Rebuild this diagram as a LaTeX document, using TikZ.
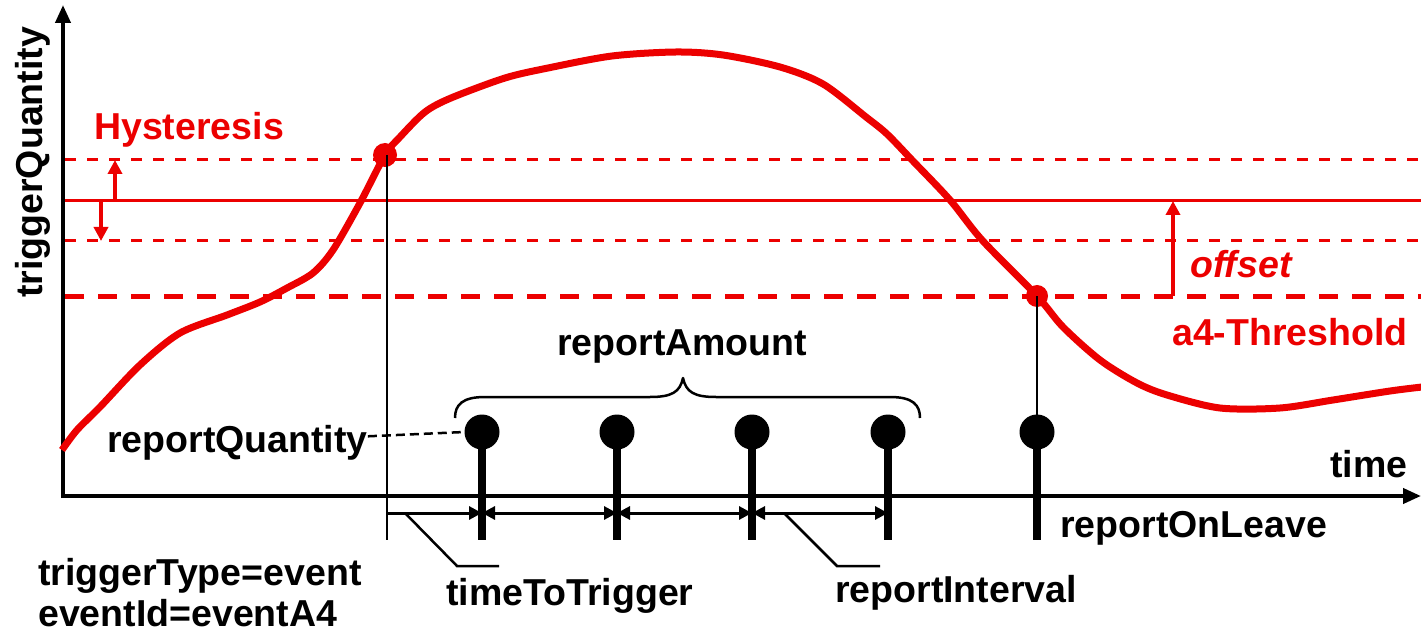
\documentclass[tikz,border=0pt]{standalone}
\usepackage{fontspec}
\setmainfont{Liberation Sans}
\usetikzlibrary{arrows.meta}
\definecolor{tqred}{RGB}{236,0,0}
\begin{document}
\begin{tikzpicture}[x=1pt,y=-1pt,
  lbl/.style={font=\fontsize{37.5}{42}\selectfont\bfseries, inner sep=0pt},
  redlbl/.style={lbl, text=tqred},
  axis/.style={line width=4pt, -{Triangle[length=18pt,width=15pt]}},
  hyst/.style={tqred, line width=3pt, dash pattern=on 11pt off 11pt},
  thresh/.style={tqred, line width=5pt, dash pattern=on 19pt off 14pt},
  level/.style={tqred, line width=3pt},
  redarrow/.style={tqred, line width=4pt, -{Triangle[length=14pt,width=14pt]}},
  curve/.style={tqred, line width=7pt, line join=round},
  reddot/.style={circle, fill=tqred, inner sep=0pt, minimum size=24pt},
  repdot/.style={circle, fill=black, inner sep=0pt, minimum size=35pt},
  stemline/.style={line width=8pt},
  thinline/.style={line width=2.5pt},
  interval/.style={line width=3pt, {Triangle[length=13pt,width=13pt]}-{Triangle[length=13pt,width=13pt]}},
  leader/.style={line width=2.5pt},
  bracestyle/.style={line width=2.5pt, line join=round}]
\useasboundingbox (0,0) rectangle (1421,636);

% axes
\coordinate (origin) at (63,496);
\coordinate (ytop) at (63,5);
\coordinate (xend) at (1421,496);
\draw[axis] (63,498) -- (ytop);
\draw[axis] (61,496) -- (xend);

% threshold levels
\draw[hyst] (65,160) -- (1421,160);
\draw[level] (65,201) -- (1421,201);
\draw[hyst] (65,241) -- (1421,241);
\draw[thresh] (65,296) -- (1421,296);

% hysteresis and offset arrows
\coordinate (hyUp) at (115,201);
\coordinate (hyUpTip) at (115,160);
\coordinate (hyDn) at (101,201);
\coordinate (hyDnTip) at (101,241);
\draw[redarrow] (hyUp) -- (hyUpTip);
\draw[redarrow] (hyDn) -- (hyDnTip);
\coordinate (offBase) at (1173,296);
\coordinate (offTip) at (1173,201);
\draw[redarrow] (offBase) -- (offTip);

% measured quantity
\draw[curve] plot[smooth, tension=0.5] coordinates {
  (62,450) (77,430) (100,407) (140,365) (180,333) (227,315) (260,302)
  (287,288) (313,273) (333,250) (360,203) (385,155) (400,137) (425,112)
  (451,98) (505,78) (548,68) (612,56) (676,52) (723,55) (780,67)
  (823,84) (866,117) (887,134) (912,160) (950,200) (982,240)
  (1037,296) (1063,327) (1100,360) (1137,383) (1167,395) (1220,408)
  (1280,408) (1333,400) (1390,391) (1422,387)};

% entering and leaving points
\node[reddot] (enter) at (385,155) {};
\node[reddot, minimum size=22pt] (leave) at (1037,296) {};

% vertical marker at the trigger instant
\coordinate (trigBot) at (387,540);
\draw[thinline] (387,155) -- (trigBot);

% reports
\node[repdot] (r1) at (482,432) {};
\node[repdot] (r2) at (617,432) {};
\node[repdot] (r3) at (752,432) {};
\node[repdot] (r4) at (888,432) {};
\node[repdot] (r5) at (1037,432) {};
\foreach \r in {r1,r2,r3,r4,r5}
  \draw[stemline] (\r.center) -- (\r |- trigBot);
\draw[thinline] (leave.center) -- (r5.center);

% timing intervals
\coordinate (t0) at (387,513);
\draw[line width=3pt, -{Triangle[length=13pt,width=13pt]}] (t0) -- (r1 |- t0);
\draw[interval] (r1 |- t0) -- (r2 |- t0);
\draw[interval] (r2 |- t0) -- (r3 |- t0);
\draw[interval] (r3 |- t0) -- (r4 |- t0);

% leaders
\draw[leader] (405,513) -- (457,566) -- (499,566);
\draw[leader] (784,513) -- (837,566) -- (880,566);

% brace over the periodic reports
\draw[bracestyle] (455,418) .. controls (455,405) and (462,397) .. (485,397)
  -- (650,397) .. controls (672,397) and (680,392) .. (683,378)
  .. controls (686,392) and (694,397) .. (716,397)
  -- (890,397) .. controls (913,397) and (920,405) .. (920,418);

% labels
\node[redlbl, anchor=base west] (hystLbl) at (94,140) {Hysteresis};
\node[redlbl, anchor=base west, font=\fontsize{37.5}{42}\selectfont\bfseries\itshape] (offLbl) at (1190,278) {offset};
\node[redlbl, anchor=base west] (thrLbl) at (1172,345) {a4-Threshold};
\node[lbl, anchor=base west, rotate=90] (yLbl) at (42,298) {triggerQuantity};
\node[lbl, anchor=base west] (xLbl) at (1330,477) {time};
\node[lbl, anchor=base west] (amtLbl) at (557,355) {reportAmount};
\node[lbl, anchor=base west] (qtyLbl) at (107,452) {reportQuantity};
\draw[thinline, dash pattern=on 9pt off 5pt] (qtyLbl.east) ++(0,-6) -- (r1.west);
\node[lbl, anchor=base west] (typeLbl) at (38,585) {triggerType=event};
\node[lbl, anchor=base west] (idLbl) at (38,626) {eventId=eventA4};
\node[lbl, anchor=base west] (tttLbl) at (446,605) {timeToTrigger};
\node[lbl, anchor=base west] (intLbl) at (835,602) {reportInterval};
\node[lbl, anchor=base west] (leaveLbl) at (1060,537) {reportOnLeave};
\end{tikzpicture}
\end{document}
